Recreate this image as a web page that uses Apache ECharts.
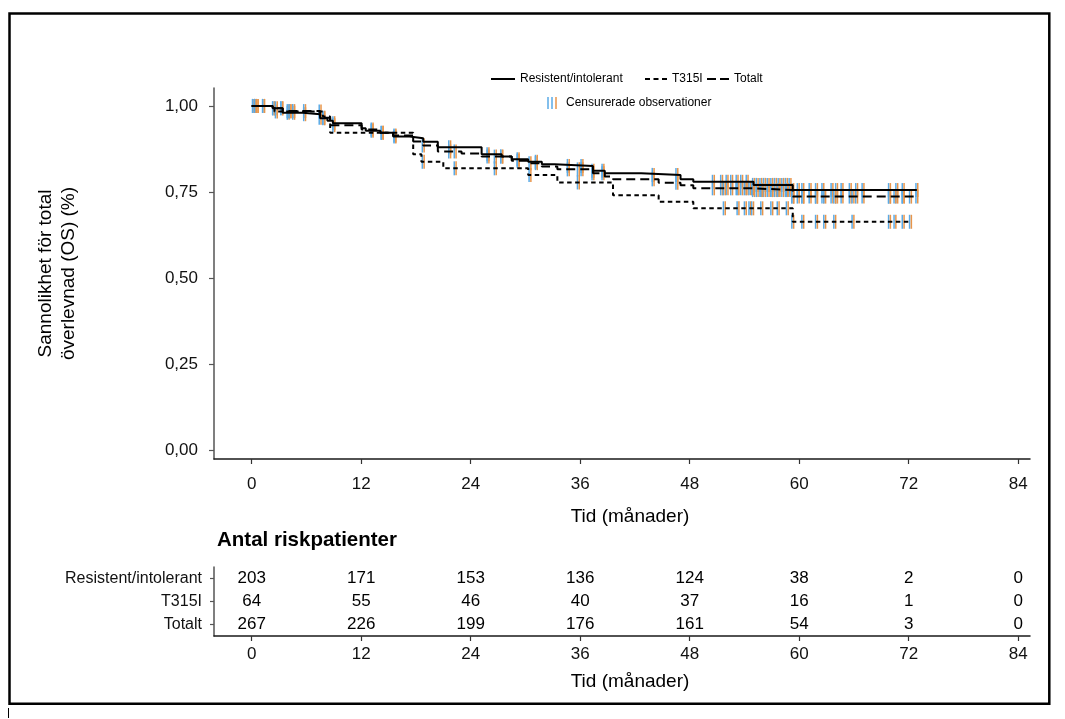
<!DOCTYPE html>
<html><head><meta charset="utf-8">
<script src="https://cdn.jsdelivr.net/npm/echarts@6/dist/echarts.min.js"></script>
<style>html,body{margin:0;padding:0;background:#fff}#c{width:1065px;height:719px}</style>
</head><body><div id="c"></div>
<script>
const FONT = '"Liberation Sans", Arial, sans-serif';

// ---- axis ticks ----
const xTicks = [0, 12, 24, 36, 48, 60, 72, 84];
const yTicks = [0, 0.25, 0.5, 0.75, 1.0];
const yTickLabels = ['0,00', '0,25', '0,50', '0,75', '1,00'];
const groups = ['Resistent/intolerant', 'T315I', 'Totalt'];

// ---- Kaplan-Meier step curves (time in months, survival) ----
const resTimes = [0, 2.3, 3.4, 5.6, 7.5, 8.3, 8.9, 12.05, 12.5, 14.1, 15.5, 17.3, 18.8, 20.4, 25.2, 27.4, 28.5, 30.3, 31.8, 33.2, 37.4, 38.7, 42.7, 47.0, 48.4, 55.0, 59.3, 72.9];
const resSurv  = [1.0, 0.993, 0.98, 0.976, 0.964, 0.957, 0.95, 0.935, 0.928, 0.922, 0.911, 0.906, 0.896, 0.88, 0.86, 0.853, 0.845, 0.838, 0.831, 0.826, 0.812, 0.805, 0.80, 0.787, 0.78, 0.771, 0.756, 0.756];

const t315Times = [0, 2.5, 7.8, 8.6, 17.7, 18.6, 21.0, 30.3, 33.5, 39.6, 44.6, 48.4, 59.3, 72.3];
const t315Surv  = [1.0, 0.984, 0.969, 0.922, 0.86, 0.838, 0.819, 0.80, 0.778, 0.741, 0.722, 0.703, 0.664, 0.664];

const totTimes = [0, 2.3, 3.4, 7.5, 8.6, 12.05, 14.1, 15.5, 17.7, 18.8, 20.4, 23.0, 25.2, 28.5, 30.3, 31.8, 33.5, 37.4, 38.7, 39.6, 44.6, 47.0, 48.4, 55.0, 59.3, 72.9];
const totSurv  = [1.0, 0.993, 0.985, 0.966, 0.944, 0.932, 0.922, 0.914, 0.897, 0.885, 0.868, 0.862, 0.853, 0.841, 0.834, 0.824, 0.816, 0.805, 0.795, 0.787, 0.777, 0.77, 0.761, 0.756, 0.737, 0.737];

// ---- censored observation times (months) ----
const resCensor = [0.2, 0.6, 1.3, 2.4, 3.3, 4.0, 4.6, 5.8, 7.9, 9.0, 13.2, 15.7, 21.7, 25.9, 27.4, 29.2, 31.2, 34.7, 36.2, 37.4, 38.5, 44.0, 46.6, 50.6, 51.5, 52.1, 52.6, 53.2, 53.7, 54.3, 55.0, 55.4, 55.8, 56.2, 56.6, 57.0, 57.4, 57.8, 58.2, 58.6, 59.0, 59.3, 59.9, 60.4, 61.2, 61.9, 62.6, 63.6, 64.1, 64.7, 65.6, 66.3, 67.0, 69.9, 70.7, 71.4, 72.9];
const t315Censor = [0.4, 2.7, 4.2, 7.5, 14.3, 18.8, 22.3, 26.7, 30.5, 35.8, 51.8, 53.3, 54.1, 54.6, 54.9, 55.9, 57.0, 57.7, 58.7, 59.3, 60.4, 61.9, 62.8, 63.9, 65.9, 69.9, 70.5, 71.4, 72.2];

// ---- numbers at risk ----
const riskTimes = [0, 12, 24, 36, 48, 60, 72, 84];
const riskRes  = [203, 171, 153, 136, 124, 38, 2, 0];
const riskT315 = [64, 55, 46, 40, 37, 16, 1, 0];
const riskTot  = [267, 226, 199, 176, 161, 54, 3, 0];

// ---- helpers ----
function zip(ts, vs) { return ts.map((t, i) => [t, vs[i]]); }
function survAt(ts, vs, t) {
  let v = vs[0];
  for (let i = 0; i < ts.length; i++) { if (ts[i] <= t) v = vs[i]; }
  return v;
}
function censorPts(ct, ts, vs) { return ct.map(t => [t, survAt(ts, vs, t)]); }

const BLUE = '#5aaae6', ORANGE = '#e8954a';
function censorRender(params, api) {
  const p = api.coord([api.value(0), api.value(1)]);
  const h = 7;
  return { type: 'group', children: [
    { type: 'line', shape: { x1: p[0] - 0.9, y1: p[1] - h, x2: p[0] - 0.9, y2: p[1] + h }, style: { stroke: BLUE, lineWidth: 1.5 } },
    { type: 'line', shape: { x1: p[0] + 0.9, y1: p[1] - h, x2: p[0] + 0.9, y2: p[1] + h }, style: { stroke: ORANGE, lineWidth: 1.5 } }
  ]};
}

const totCensor = resCensor.concat(t315Censor);

const axisTxt = { color: '#111', fontFamily: FONT };
const X_MIN = -4.13, X_MAX = 85.3;

const chart = echarts.init(document.getElementById('c'), null, { renderer: 'canvas' });
chart.setOption({
  animation: false,
  backgroundColor: '#fff',
  textStyle: { fontFamily: FONT },
  title: {
    text: 'Antal riskpatienter', left: 217, top: 530, padding: 0,
    textStyle: { fontFamily: FONT, fontSize: 20.5, fontWeight: 'bold', color: '#000' }
  },
  legend: [
    { data: [{ name: groups[0], icon: 'path://M0,0H24V2H0Z' }], left: 491, top: 73, padding: 0, itemWidth: 24, itemHeight: 2, selectedMode: false,
      itemStyle: { color: '#000', borderWidth: 0 }, textStyle: { fontFamily: FONT, fontSize: 12, color: '#000' } },
    { data: [{ name: groups[1], icon: 'path://M0,0H5V2H0Z M8.5,0H13.5V2H8.5Z M17,0H22V2H17Z' }], left: 645, top: 73, padding: 0, itemWidth: 22, itemHeight: 2, selectedMode: false,
      itemStyle: { color: '#000', borderWidth: 0 }, textStyle: { fontFamily: FONT, fontSize: 12, color: '#000' } },
    { data: [{ name: groups[2], icon: 'path://M0,0H9V2H0Z M13,0H22V2H13Z' }], left: 707, top: 73, padding: 0, itemWidth: 22, itemHeight: 2, selectedMode: false,
      itemStyle: { color: '#000', borderWidth: 0 }, textStyle: { fontFamily: FONT, fontSize: 12, color: '#000' } }
  ],
  graphic: [
    { type: 'rect', shape: { x: 9.5, y: 13.5, width: 1039.8, height: 690.3 }, style: { fill: 'none', stroke: '#000', lineWidth: 2.5 }, silent: true },
    { type: 'line', shape: { x1: 8.5, y1: 708, x2: 8.5, y2: 718 }, style: { stroke: '#000', lineWidth: 1 }, silent: true },
    { type: 'line', shape: { x1: 548, y1: 97, x2: 548, y2: 109 }, style: { stroke: BLUE, lineWidth: 1.5 } },
    { type: 'line', shape: { x1: 552, y1: 97, x2: 552, y2: 109 }, style: { stroke: BLUE, lineWidth: 1.5 } },
    { type: 'line', shape: { x1: 556, y1: 97, x2: 556, y2: 109 }, style: { stroke: ORANGE, lineWidth: 1.5 } },
    { type: 'text', style: { text: 'Censurerade observationer', x: 566, y: 103, verticalAlign: 'middle', font: '12px ' + FONT, fill: '#000' } }
  ],
  grid: [
    { left: 214, right: 35, top: 88, height: 371 },
    { left: 214, right: 35, top: 567, height: 69 }
  ],
  xAxis: [
    { gridIndex: 0, type: 'value', min: X_MIN, max: X_MAX,
      name: 'Tid (månader)', nameLocation: 'middle', nameGap: 48,
      nameTextStyle: { fontFamily: FONT, fontSize: 19, color: '#000', padding: [0, 0, 0, 16] },
      axisLine: { show: true, onZero: false, lineStyle: { color: '#1a1a1a', width: 1.5 } },
      axisTick: { show: true, length: 5, customValues: xTicks, lineStyle: { color: '#333', width: 1.2 } },
      axisLabel: { customValues: xTicks, fontSize: 17, margin: 17, ...axisTxt },
      splitLine: { show: false } },
    { gridIndex: 1, type: 'value', min: X_MIN, max: X_MAX,
      name: 'Tid (månader)', nameLocation: 'middle', nameGap: 36,
      nameTextStyle: { fontFamily: FONT, fontSize: 19, color: '#000', padding: [0, 0, 0, 16] },
      axisLine: { show: true, onZero: false, lineStyle: { color: '#1a1a1a', width: 1.5 } },
      axisTick: { show: true, length: 5, customValues: xTicks, lineStyle: { color: '#333', width: 1.2 } },
      axisLabel: { customValues: xTicks, fontSize: 17, margin: 10, ...axisTxt },
      splitLine: { show: false } }
  ],
  yAxis: [
    { gridIndex: 0, type: 'value', min: -0.024, max: 1.052,
      name: 'Sannolikhet för total\növerlevnad (OS) (%)', nameLocation: 'middle', nameGap: 134,
      nameTextStyle: { fontFamily: FONT, fontSize: 19, lineHeight: 23, color: '#000' },
      axisLine: { show: true, onZero: false, lineStyle: { color: '#555', width: 1.5 } },
      axisTick: { show: true, length: 5, customValues: yTicks, lineStyle: { color: '#555', width: 1.2 } },
      axisLabel: { customValues: yTicks, fontSize: 17, margin: 16, ...axisTxt,
        formatter: v => { const i = yTicks.findIndex(t => Math.abs(t - v) < 1e-6); return i >= 0 ? yTickLabels[i] : ''; } },
      splitLine: { show: false } },
    { gridIndex: 1, type: 'category', data: groups, inverse: true,
      axisLine: { show: true, onZero: false, lineStyle: { color: '#555', width: 1.5 } },
      axisTick: { show: true, length: 4, alignWithLabel: true, lineStyle: { color: '#555', width: 1.2 } },
      axisLabel: { fontSize: 16, margin: 12, ...axisTxt },
      splitLine: { show: false } }
  ],
  series: [
    { name: 'cens-res', type: 'custom', xAxisIndex: 0, yAxisIndex: 0, renderItem: censorRender, data: censorPts(resCensor, resTimes, resSurv), z: 1 },
    { name: 'cens-t315', type: 'custom', xAxisIndex: 0, yAxisIndex: 0, renderItem: censorRender, data: censorPts(t315Censor, t315Times, t315Surv), z: 1 },
    { name: 'cens-tot', type: 'custom', xAxisIndex: 0, yAxisIndex: 0, renderItem: censorRender, data: censorPts(totCensor, totTimes, totSurv), z: 1 },
    { name: groups[0], type: 'line', step: 'end', symbol: 'none', xAxisIndex: 0, yAxisIndex: 0, data: zip(resTimes, resSurv),
      color: '#000', lineStyle: { color: '#000', width: 2 }, z: 3 },
    { name: groups[1], type: 'line', step: 'end', symbol: 'none', xAxisIndex: 0, yAxisIndex: 0, data: zip(t315Times, t315Surv),
      color: '#000', lineStyle: { color: '#000', width: 2, type: [4.5, 3.5] }, z: 3 },
    { name: groups[2], type: 'line', step: 'end', symbol: 'none', xAxisIndex: 0, yAxisIndex: 0, data: zip(totTimes, totSurv),
      color: '#000', lineStyle: { color: '#000', width: 2, type: [9, 5] }, z: 3 },
    { name: 'risk', type: 'scatter', xAxisIndex: 1, yAxisIndex: 1, symbol: 'rect', symbolSize: 1,
      itemStyle: { color: 'rgba(255,255,255,0)' },
      label: { show: true, position: 'inside', formatter: p => String(p.value[2]), fontFamily: FONT, fontSize: 17,
        color: '#000', textBorderWidth: 0, textBorderColor: 'transparent', opacity: 1 },
      emphasis: { disabled: true },
      data: [].concat(
        riskTimes.map((t, i) => [t, groups[0], riskRes[i]]),
        riskTimes.map((t, i) => [t, groups[1], riskT315[i]]),
        riskTimes.map((t, i) => [t, groups[2], riskTot[i]])
      ) }
  ]
});
</script></body></html>
